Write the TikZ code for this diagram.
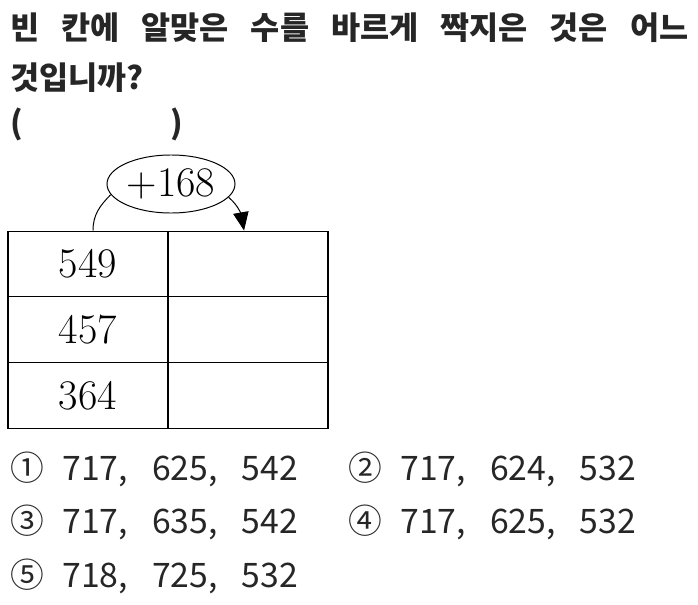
\documentclass[tikz,border=0pt]{standalone}
\usepackage{fontspec}
\usepackage{tikz}
\usetikzlibrary{arrows,arrows.meta,positioning,shapes.geometric}
\newfontfamily\krtitle{Noto Sans CJK KR}
\newfontfamily\kropt[WordSpace=3.2]{Noto Sans CJK KR}
\newcommand{\numbox}[1]{\makebox[1.3cm][l]{#1}}
\newcommand{\wsp}{\hspace{0.55cm}}
\definecolor{ink}{HTML}{262626}

\begin{document}
\begin{tikzpicture}[x=0.025cm, y=-0.025cm, >=stealth, node distance=1.642cm]
      \tikzstyle{title} = [anchor=base west, inner sep=0pt, text=ink, font=\krtitle\bfseries\fontsize{22.5}{27}\selectfont]
      \tikzstyle{cell} = [draw, line width=0.9pt, minimum width=4cm, minimum height=1.642cm, inner sep=0pt, font=\fontsize{30}{34}\selectfont]
      \tikzstyle{oval} = [draw, ellipse, line width=0.7pt, minimum width=3.2cm, minimum height=1.45cm, inner sep=0pt, font=\fontsize{30}{34}\selectfont]
      \tikzstyle{choice} = [anchor=base west, inner sep=0pt, text=ink, font=\kropt\fontsize{24}{28}\selectfont]
      \useasboundingbox (0,0) rectangle (698,605);
      % question
      \begin{scope}
	\path
	node[title] (q1) at (10,39) {빈\wsp 칸에\wsp 알맞은\wsp 수를\wsp 바르게\wsp 짝지은\wsp 것은\wsp 어느}
	node[title] (q2) at (10,89) {것입니까?}
	node[title] (ans) at (10,134) {(\hspace*{3.7cm})}
	;
      \end{scope}
      % table with the +168 rule
      \begin{scope}
	\path[->, line width=0.7pt]
	node[cell] (a1) at (88,264) {549}
	node[cell, below of=a1] (a2) {457}
	node[cell, below of=a2] (a3) {364}
	node[cell, node distance=4cm, right of=a1] (b1) {}
	node[cell, node distance=4cm, right of=a2] (b2) {}
	node[cell, node distance=4cm, right of=a3] (b3) {}
	node[oval] (add) at (171,184) {+168}
	([xshift=0.125cm]a1.north) edge[-, out=90, in=225] (add.190)
	(add.347) edge[out=-40, in=100, -{Triangle[length=13pt, width=11pt]}] ([xshift=-0.1cm]b1.north)
	;
      \end{scope}
      % choices
      \begin{scope}
	\path
	node[choice] (o1) at (10,480) {\numbox{①}717, 625, 542}
	node[choice] (o2) at (348,480) {\numbox{②}717, 624, 532}
	node[choice] (o3) at (10,533) {\numbox{③}717, 635, 542}
	node[choice] (o4) at (348,533) {\numbox{④}717, 625, 532}
	node[choice] (o5) at (10,587) {\numbox{⑤}718, 725, 532}
	;
      \end{scope}
    \end{tikzpicture}
\end{document}
